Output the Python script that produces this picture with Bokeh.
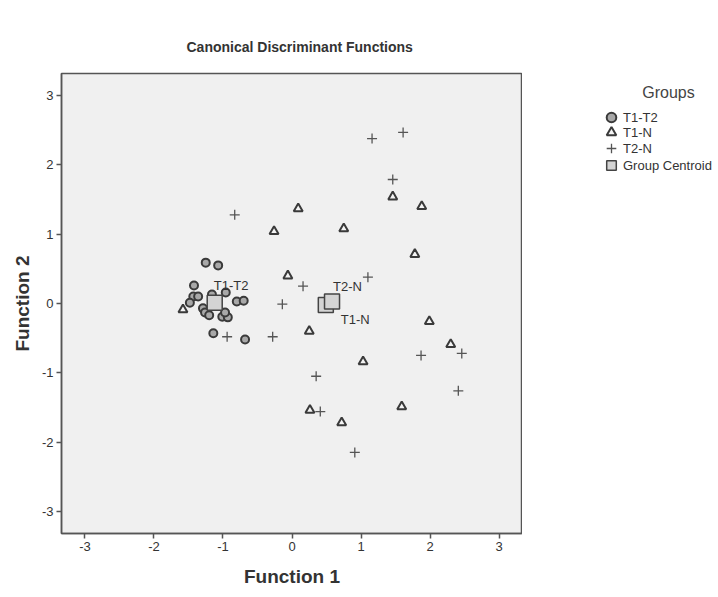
from bokeh.plotting import figure
from bokeh.layouts import row
from bokeh.models import Legend, LegendItem, ColumnDataSource, FixedTicker, Label
from bokeh.embed import file_html
from bokeh.resources import INLINE
from bokeh.core.properties import value

# ---- data ----
t1t2_f1 = [-1.25, -1.07, -1.42, -0.96, -1.43, -1.36, -1.48, -1.29, -1.26, -1.20,
           -1.01, -0.93, -0.80, -0.70, -1.14, -0.68, -0.97, -1.16]
t1t2_f2 = [0.59, 0.55, 0.26, 0.16, 0.10, 0.10, 0.01, -0.07, -0.13, -0.17,
           -0.19, -0.20, 0.03, 0.04, -0.43, -0.52, -0.13, 0.13]
t1n_f1 = [0.09, -0.26, 0.75, 1.46, 1.88, 1.78, -0.06, 0.25, 1.99, 1.03, 2.30,
          0.26, 0.72, 1.59, -1.58]
t1n_f2 = [1.37, 1.04, 1.08, 1.54, 1.40, 0.71, 0.40, -0.40, -0.26, -0.84, -0.59,
          -1.54, -1.72, -1.49, -0.09]
t2n_f1 = [-0.83, 1.16, 1.61, 1.46, 1.10, 0.16, -0.14, -0.28, -0.94, 0.35, 0.41,
          0.91, 1.87, 2.46, 2.41]
t2n_f2 = [1.28, 2.38, 2.47, 1.79, 0.38, 0.25, -0.01, -0.48, -0.48, -1.05, -1.56,
          -2.15, -0.75, -0.72, -1.26]
centroid_names = ["T1-T2", "T1-N", "T2-N"]
centroid_f1 = [-1.12, 0.49, 0.58]
centroid_f2 = [0.01, -0.02, 0.03]
ticks = [-3, -2, -1, 0, 1, 2, 3]
group_labels = ["T1-T2", "T1-N", "T2-N", "Group Centroid"]

FONT = "Liberation Sans"
DARK = "#333333"

STY_T1T2 = dict(marker="circle", size=8, line_width=2, line_color="#3a3a3a", fill_color="#a8a8a8")
STY_T1N = dict(marker="triangle", size=9, line_width=2, line_color="#3a3a3a", fill_color="#f4f4f4")
STY_T2N = dict(marker="cross", size=10, line_width=1.3, line_color="#555555")
STY_CEN = dict(marker="square", size=15, line_width=1.5, line_color="#444444", fill_color="#d4d4d4")

# ---- main plot ----
p = figure(width=522, height=597, x_range=(-3.34, 3.34), y_range=(-3.32, 3.32),
           output_backend="svg", toolbar_location=None,
           min_border_left=61, min_border_right=0, min_border_top=73, min_border_bottom=64)

p.background_fill_color = "#f0f0f0"
p.border_fill_color = "white"
p.outline_line_color = "#555555"
p.outline_line_width = 1.5
p.xgrid.visible = False
p.ygrid.visible = False

p.title.text = "Canonical Discriminant Functions"
p.title.align = "left"
p.title.offset = 125
p.title.text_font = FONT
p.title.text_font_size = "14px"
p.title.text_font_style = "bold"
p.title.text_color = DARK
p.title.standoff = 38

for ax in (p.xaxis[0], p.yaxis[0]):
    ax.ticker = FixedTicker(ticks=ticks)
    ax.major_label_overrides = {t: str(t) for t in ticks}
    ax.minor_tick_line_color = None
    ax.major_tick_in = 0
    ax.major_tick_out = 5
    ax.major_tick_line_color = "#555555"
    ax.major_tick_line_width = 1.5
    ax.axis_line_color = "#555555"
    ax.axis_line_width = 1.5
    ax.major_label_text_font = FONT
    ax.major_label_text_font_size = "13px"
    ax.major_label_text_color = DARK
    ax.axis_label_text_font = FONT
    ax.axis_label_text_font_size = "19px"
    ax.axis_label_text_font_style = "bold"
    ax.axis_label_text_color = DARK
    ax.major_label_standoff = 3

p.xaxis.axis_label = "Function 1"
p.yaxis.axis_label = "Function 2"
p.xaxis.axis_label_standoff = 12
p.yaxis.axis_label_standoff = 6

p.scatter(t1t2_f1, t1t2_f2, **STY_T1T2)
p.scatter(t1n_f1, t1n_f2, **STY_T1N)
p.scatter(t2n_f1, t2n_f2, **STY_T2N)
csrc = ColumnDataSource(dict(x=centroid_f1, y=centroid_f2, name=centroid_names,
                             dx=[-1, 15, 1], dy=[-17, 15, -15]))
p.scatter("x", "y", source=csrc, **STY_CEN)
p.text("x", "y", text="name", source=csrc, x_offset="dx", y_offset="dy",
       text_font=value(FONT), text_font_size="13px", text_color=DARK,
       text_align="left", text_baseline="middle")

# ---- legend panel (pixel-like ranges) ----
q = figure(width=196, height=597, x_range=(0, 119), y_range=(0, 460),
           output_backend="svg", toolbar_location=None,
           x_axis_location=None, y_axis_location=None,
           min_border_left=77, min_border_right=0, min_border_top=73, min_border_bottom=64)
q.outline_line_color = None
q.background_fill_color = "white"
q.border_fill_color = "white"
q.xgrid.visible = False
q.ygrid.visible = False

# legend-only renderers (same data, hidden in this panel)
e1 = q.scatter(t1t2_f1, t1t2_f2, visible=False, **STY_T1T2)
e2 = q.scatter(t1n_f1, t1n_f2, visible=False, **STY_T1N)
e3 = q.scatter(t2n_f1, t2n_f2, visible=False, **STY_T2N)
e4 = q.scatter(centroid_f1, centroid_f2, visible=False, **STY_CEN)

# one single-item legend per row, so rows can sit 16px apart with large glyphs
row_offsets = [404, 389, 373, 356]   # pixels from the bottom of the panel's frame
for lab, rend, off in zip(group_labels, [e1, e2, e3, e4], row_offsets):
    lg = Legend(items=[LegendItem(label=lab, renderers=[rend], index=0)], location=(0, off))
    lg.border_line_color = None
    lg.background_fill_alpha = 0
    lg.label_text_font = FONT
    lg.label_text_font_size = "13px"
    lg.label_text_color = DARK
    lg.glyph_width = 24
    lg.glyph_height = 24
    lg.label_height = 24
    lg.padding = 0
    lg.margin = 0
    lg.label_standoff = 0
    lg.click_policy = "none"
    q.add_layout(lg, "center")

q.add_layout(Label(x=69, y=441, text="Groups", text_font=FONT, text_font_size="16px",
                   text_color="#444444", text_align="center", text_baseline="middle"))

layout = row(p, q)
open("out.html", "w").write(file_html(layout, INLINE))
